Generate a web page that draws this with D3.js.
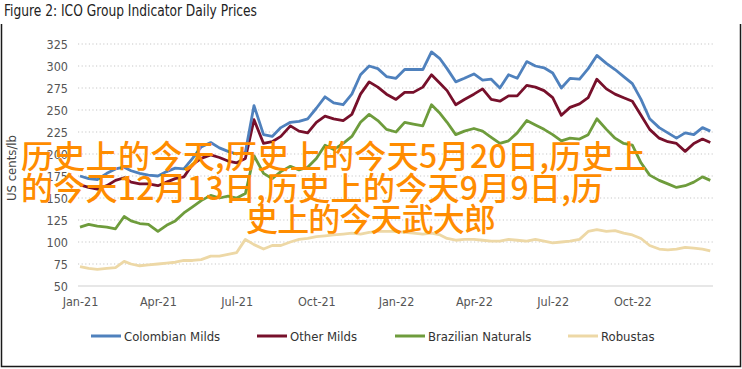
<!DOCTYPE html>
<html><head><meta charset="utf-8">
<script src="https://cdn.jsdelivr.net/npm/d3@7"></script>
<style>
html,body{margin:0;padding:0;background:#fff;}
svg{display:block;}
</style></head>
<body>
<svg id="chart" width="742" height="369"></svg>
<script>
// ---- data (~10-day resolution) ----
const dates = (function(){
  const out = [];
  for (let y of [2021, 2022]) for (let m = 1; m <= 12; m++) for (let d of [1, 11, 21]) out.push(`${y}-${String(m).padStart(2,"0")}-${String(d).padStart(2,"0")}`);
  out.push("2022-12-30");
  return out;
})();
const colombianMilds = [175,172,171,178,183,185,181,178,176,175,180,184,183,195,208,213,207,203,200,202,255,222,220,230,236,237,240,252,265,258,256,268,290,300,297,288,286,296,296,296,316,308,297,282,286,291,284,285,275,290,286,305,300,298,292,275,286,285,297,312,303,296,288,280,262,240,230,224,218,224,222,230,226];
const otherMilds = [165,162,160,164,170,173,168,166,166,164,168,172,174,188,195,199,196,192,190,195,239,212,214,220,232,226,224,236,243,240,238,245,268,282,276,268,262,270,270,276,290,280,272,256,262,268,274,262,260,266,266,278,276,272,264,244,253,257,264,285,274,268,264,260,244,228,218,214,212,203,212,217,213];
const brazilianNaturals = [117,120,118,117,115,129,124,121,120,112,119,124,133,140,147,153,150,152,150,155,198,178,172,180,186,182,185,195,210,205,212,220,236,245,238,228,225,236,234,232,256,246,236,222,226,229,226,219,212,215,224,238,233,228,222,215,218,217,222,240,228,218,212,210,190,176,170,166,162,164,168,174,170];
const robustas = [72,70,69,70,71,78,75,73,74,75,76,77,79,79,80,84,84,86,88,103,97,92,96,96,100,103,104,106,107,108,109,110,109,111,112,112,112,111,110,109,110,108,104,102,103,103,102,101,101,103,102,101,103,101,99,100,101,103,112,114,112,113,110,108,104,96,92,91,92,94,93,92,90];
const seriesNames = ["Colombian Milds","Other Milds","Brazilian Naturals","Robustas"];
const seriesColors = ["#4F81BD","#77102B","#6E9C3C","#EDD8A6"];
const yTicks = [50,75,100,125,150,175,200,225,250,275,300,325];
const xTickDates = ["2021-01-01","2021-04-01","2021-07-01","2021-10-01","2022-01-01","2022-04-01","2022-07-01","2022-10-01"];
const titleText = "Figure 2: ICO Group Indicator Daily Prices";
const yAxisTitle = "US cents/lb";
const overlayLines = ["历史上的今天,历史上的今天5月20日,历史上","的今天12月13日,历史上的今天9月9日,历","史上的今天武大郎"];

// ---- drawing ----
const svg = d3.select("#chart");
const parse = d3.timeParse("%Y-%m-%d");
const x = d3.scaleTime().domain([parse("2021-01-01"), parse("2023-01-01")]).range([80, 712]);
const y = d3.scaleLinear().domain([50, 325]).range([286, 44]);
const font = "'Liberation Sans Narrow','DejaVu Sans Condensed','Liberation Sans',sans-serif";

// frame
svg.append("path").attr("d","M1.5,24 V366.5 H740.5 V24").attr("fill","none").attr("stroke","#1a1a1a").attr("stroke-width",1.5);

// title
svg.append("text").attr("x",4).attr("y",16).text(titleText)
  .attr("font-family",font).attr("font-size",15.5).attr("fill","#222")
  .attr("textLength",253).attr("lengthAdjust","spacingAndGlyphs");

// gridlines
svg.append("g").selectAll("line").data(yTicks.filter(d=>d>50)).join("line")
  .attr("x1",78).attr("x2",713).attr("y1",d=>y(d)).attr("y2",d=>y(d))
  .attr("stroke","#c8c8c8").attr("stroke-width",1.2).attr("stroke-dasharray","1.2,2.4");
svg.append("line").attr("x1",78).attr("x2",713).attr("y1",y(50)).attr("y2",y(50))
  .attr("stroke","#d0d0d0").attr("stroke-width",1.2);

// y axis
const yAxis = d3.axisLeft(y).tickValues(yTicks).tickSize(0).tickPadding(0);
const gy = svg.append("g").attr("transform","translate(68,0)").call(yAxis);
gy.select(".domain").remove();
gy.selectAll("text").attr("font-family",font).attr("font-size",12.5).attr("fill","#555");

// x axis
const xAxis = d3.axisBottom(x).tickValues(xTickDates.map(parse)).tickFormat(d3.timeFormat("%b-%y")).tickSize(0).tickPadding(0);
const gx = svg.append("g").attr("transform","translate(0,297)").call(xAxis);
gx.select(".domain").remove();
gx.selectAll("text").attr("font-family",font).attr("font-size",12.5).attr("fill","#555");

// y title
svg.append("text").attr("transform","translate(16,168) rotate(-90)").attr("text-anchor","middle")
  .text(yAxisTitle).attr("font-family",font).attr("font-size",13).attr("fill","#444");

// lines
const allSeries = [colombianMilds, otherMilds, brazilianNaturals, robustas];
const line = d3.line().x((d,i)=>x(parse(dates[i]))).y(d=>y(d));
[3,2,1,0].forEach(k=>{
  svg.append("path").datum(allSeries[k]).attr("d",line)
    .attr("fill","none").attr("stroke",seriesColors[k]).attr("stroke-width",2.8)
    .attr("stroke-linejoin","round");
});

// legend
const legendX = [91,257,395,568];
const lg = svg.append("g");
seriesNames.forEach((n,k)=>{
  lg.append("line").attr("x1",legendX[k]).attr("x2",legendX[k]+30).attr("y1",336).attr("y2",336)
    .attr("stroke",seriesColors[k]).attr("stroke-width",3);
  lg.append("text").attr("x",legendX[k]+33).attr("y",336).attr("dy","0.35em").text(n)
    .attr("font-family",font).attr("font-size",13).attr("fill","#333");
});

// overlay text
const ov = svg.append("g").attr("font-family","'Noto Sans CJK SC',sans-serif").attr("font-size",32).attr("fill","#FF8C00").attr("font-weight",500);
ov.append("text").attr("x",21).attr("y",157).attr("dy","0.35em").text(overlayLines[0]).attr("textLength",625).attr("lengthAdjust","spacing");
ov.append("text").attr("x",21).attr("y",189).attr("dy","0.35em").text(overlayLines[1]).attr("textLength",582).attr("lengthAdjust","spacing");
ov.append("text").attr("x",246).attr("y",220).attr("dy","0.35em").text(overlayLines[2]).attr("textLength",250).attr("lengthAdjust","spacing");
</script>
</body></html>
